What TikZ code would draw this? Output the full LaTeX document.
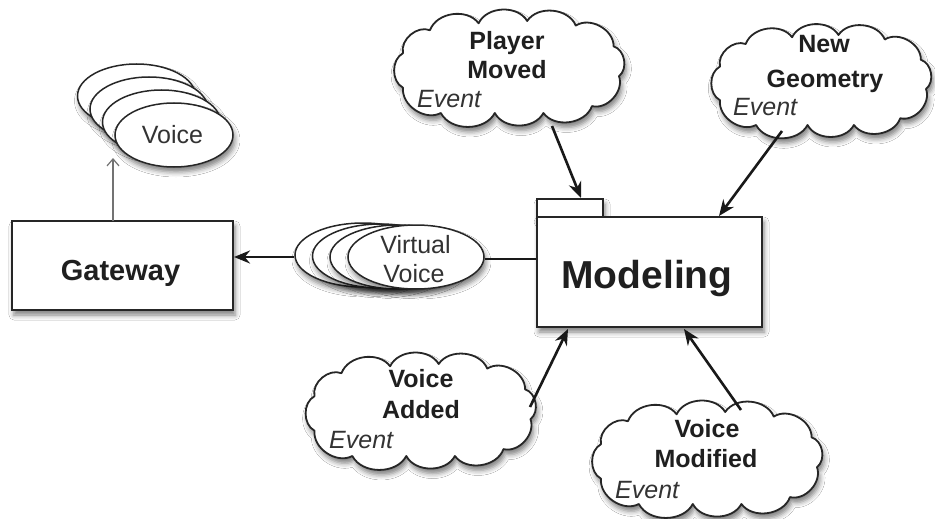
\documentclass[tikz,border=0pt]{standalone}
\usepackage{fontspec}
\setmainfont{Liberation Sans}
\usetikzlibrary{shapes.geometric,arrows.meta,shadows.blur}
\tikzset{
  shad/.style={blur shadow={shadow xshift=2pt, shadow yshift=-5pt, shadow blur radius=5pt, shadow opacity=50}},
  boxline/.style={draw=black!85, line width=2pt, fill=white, inner sep=0pt, shad},
  ell/.style={ellipse, draw=black!85, line width=1.5pt, fill=white, inner sep=0pt, shad},
  cloudline/.style={draw=black!85, line width=1.8pt, fill=white, line join=round, shad},
  evarrow/.style={line width=2.6pt, draw=black!90, -{Stealth[length=16pt,width=13pt]}},
  bold25/.style={font=\fontsize{25}{30}\selectfont\bfseries, text=black!88, inner sep=0pt, anchor=base},
  ev/.style={font=\fontsize{25}{30}\selectfont\itshape, text=black!80, inner sep=0pt, anchor=base west},
  reg/.style={font=\fontsize{25}{30}\selectfont, text=black!80, inner sep=0pt, anchor=base},
}
% #1 name, #2 cx, #3 cy, #4 rx (valleys), #5 ry (valleys)
\newcommand\evcloud[5]{%
  \foreach \u/\v [count=\k from 0] in {1.0/-0.2, 0.95/0.45, 0.6/0.9, 0.15/1.0, -0.3/0.95, -0.75/0.8, -1.0/0.3, -1.0/-0.45, -0.65/-1.0, -0.15/-1.0, 0.3/-1.0, 0.75/-0.85}
    {\coordinate (#1c\k) at ({#2+#4*\u},{#3-#5*\v});}
  \path[cloudline] (#1c0) \foreach \k in {1,...,11}{ to[bend right=62] (#1c\k)} to[bend right=62] (#1c0) -- cycle;
}
\begin{document}
\begin{tikzpicture}[x=1pt,y=-1pt]
\useasboundingbox (0,0) rectangle (935,519);
\fill[white] (0,0) rectangle (935,519);

% Voice stack
\node[ell, minimum width=118pt, minimum height=64pt] (v4) at (136.5,96) {};
\node[ell, minimum width=118pt, minimum height=64pt] (v3) at (149,109) {};
\node[ell, minimum width=118pt, minimum height=64pt] (v2) at (161.5,122) {};
\node[ell, minimum width=118pt, minimum height=64pt] (v1) at (174,135) {};
\node[reg] (vt) at (172.5,143) {Voice};

% Gateway
\node[boxline, minimum width=221pt, minimum height=89pt] (gw) at (122.5,265.5) {};
\node[bold25, font=\fontsize{29}{34}\selectfont\bfseries] (gwt) at (120.5,280) {Gateway};

% Virtual Voice stack
\node[ell, minimum width=136pt, minimum height=64pt] (vv4) at (363,255) {};
\node[ell, minimum width=136pt, minimum height=64pt] (vv3) at (380.5,256) {};
\node[ell, minimum width=136pt, minimum height=64pt] (vv2) at (398,257) {};
\node[ell, minimum width=136pt, minimum height=64pt] (vv1) at (416,257) {};
\node[reg] (vvt1) at (415.5,253) {Virtual};
\node[reg] (vvt2) at (414,282) {Voice};

% Modeling package
\node[boxline, minimum width=66pt, minimum height=18pt] (tab) at (570,208) {};
\node[boxline, minimum width=225pt, minimum height=110pt] (mod) at (649.5,272) {};
\node[bold25, font=\fontsize{39}{46}\selectfont\bfseries] (modt) at (647,288) {Modeling};

% Clouds
\evcloud{pm}{511}{67}{108}{46}
\node[bold25] (pm1) at (507,50) {Player};
\node[bold25] (pm2) at (507,78) {Moved};
\node[ev] (pme) at (417,107) {Event};

\evcloud{ng}{823}{80}{103}{45}
\node[bold25] (ng1) at (824,53) {New};
\node[bold25] (ng2) at (825,88) {Geometry};
\node[ev] (nge) at (733,115) {Event};

\evcloud{va}{422.5}{410}{108}{46}
\node[bold25] (va1) at (421,387) {Voice};
\node[bold25] (va2) at (421,418) {Added};
\node[ev] (vae) at (329,448) {Event};

\evcloud{vm}{709}{458}{108}{46}
\node[bold25] (vm1) at (707,437) {Voice};
\node[bold25] (vm2) at (706,467) {Modified};
\node[ev] (vme) at (615,498) {Event};

% connectors
\coordinate (gwtop) at (113,221);
\coordinate (vtip) at (113,158);
\draw[line width=1.2pt, draw=black!55, -{Straight Barb[length=7pt,width=12pt]}] (gwtop) -- (vtip);

\draw[line width=2.4pt, draw=black!90] (mod.west |- 0,259) -- (vv1.east |- 0,259);
\draw[evarrow] (vv4.west |- 0,257) -- (gw.east |- 0,257);

\coordinate (pmout) at (552,126);
\coordinate (pmend) at (581,198);
\coordinate (ngout) at (782,131);
\coordinate (ngend) at (719,216);
\coordinate (vaout) at (530,407);
\coordinate (vaend) at (568,329);
\coordinate (vmout) at (741,410);
\coordinate (vmend) at (684,329);
\draw[evarrow] (pmout) -- (pmend);
\draw[evarrow] (ngout) -- (ngend);
\draw[evarrow] (vaout) -- (vaend);
\draw[evarrow] (vmout) -- (vmend);
\end{tikzpicture}
\end{document}
